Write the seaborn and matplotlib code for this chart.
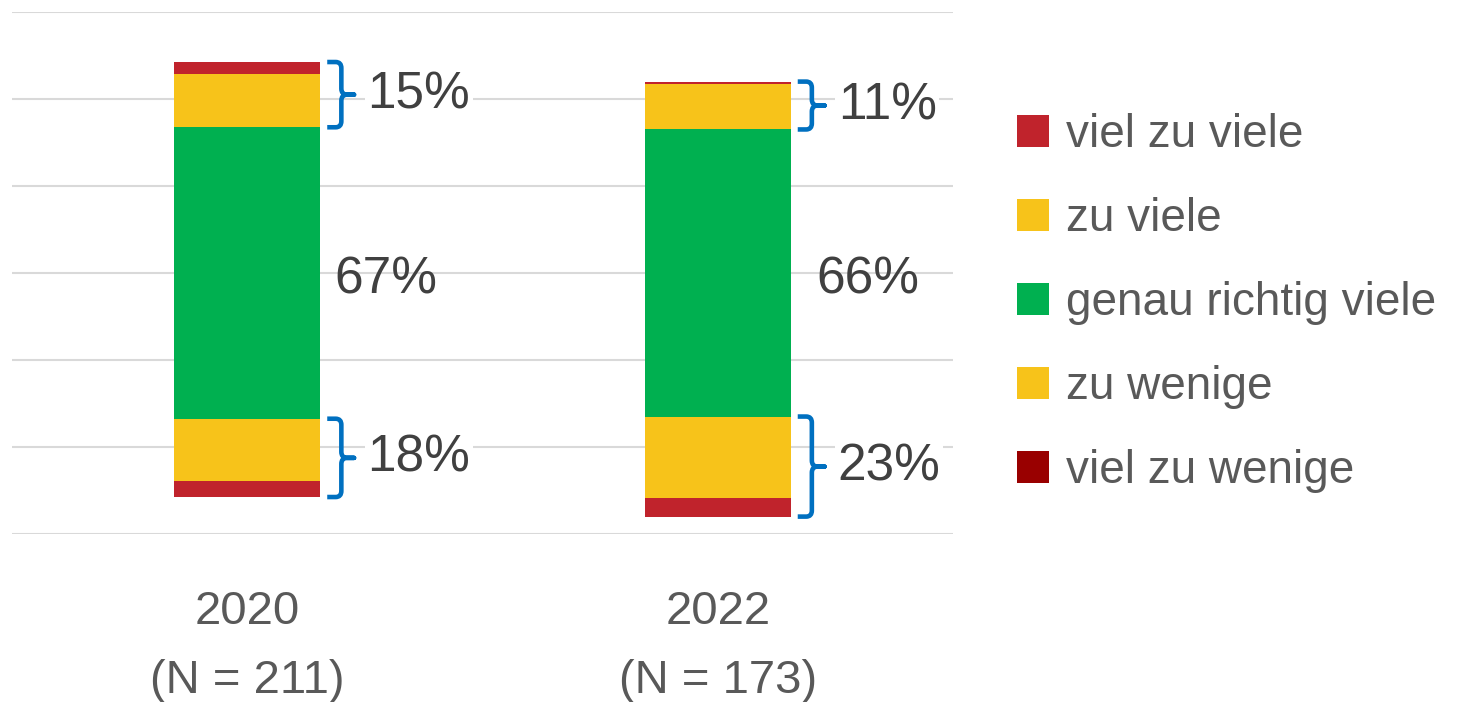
import numpy as np
import pandas as pd
import seaborn as sns
import matplotlib.pyplot as plt
from matplotlib.path import Path
from matplotlib.patches import PathPatch, Patch

# -------------------------
# Data (percent)
# -------------------------
years = ["2020\n(N = 211)", "2022\n(N = 173)"]
viel_zu_wenige = [3.6, 4.2]
zu_wenige = [14.4, 18.8]
genau_richtig = [67, 66]
zu_viele = [12.2, 10.4]
viel_zu_viele = [2.8, 0.6]

labels = ["viel zu viele", "zu viele", "genau richtig viele", "zu wenige", "viel zu wenige"]
bar_red = "#C0232C"
yellow = "#F7C31A"
green = "#00B050"
dark_red = "#990000"
blue = "#0070C0"

sns.set_style("white")
plt.rcParams["font.family"] = ["Liberation Sans", "DejaVu Sans"]

fig = plt.figure(figsize=(14.81, 7.02), dpi=100)
ax = fig.add_axes([12 / 1481, 1 - 534 / 702, (953 - 12) / 1481, (534 - 12) / 702])

# diverging stack: green centred on zero
low = -(np.array(genau_richtig) / 2 + np.array(zu_wenige) + np.array(viel_zu_wenige))
segments = [
    (viel_zu_wenige, bar_red),
    (zu_wenige, yellow),
    (genau_richtig, green),
    (zu_viele, yellow),
    (viel_zu_viele, bar_red),
]
bottom = low.copy()
width = 0.31
for vals, col in segments:
    sns.barplot(x=years, y=vals, bottom=bottom, color=col, width=width,
                linewidth=0, saturation=1, ax=ax, zorder=3)
    bottom = bottom + np.array(vals)

ax.set_xlim(-0.5, 1.5)
ax.set_ylim(-60, 60)
ax.set_yticks(np.arange(-60, 61, 20))
ax.set_yticklabels([])
ax.grid(axis="y", color="#D9D9D9", linewidth=1.5)
ax.grid(axis="x", visible=False)
ax.tick_params(axis="both", length=0)
ax.tick_params(axis="x", pad=40, labelsize=34, labelcolor="#595959")
for t in ax.get_xticklabels():
    t.set_linespacing(1.75)
sns.despine(ax=ax, left=True, bottom=True)


def brace(ax, xr, y_top, y_bot):
    x0, xv, xt = xr + 0.015, xr + 0.045, xr + 0.072
    r, ry = 0.012, 1.4
    ym = (y_top + y_bot) / 2
    verts = [
        (x0, y_top), (xv - r, y_top), (xv, y_top), (xv, y_top - ry),
        (xv, ym + ry), (xv, ym), (xv + r, ym), (xt, ym),
        (xv + r, ym), (xv, ym), (xv, ym - ry),
        (xv, y_bot + ry), (xv, y_bot), (xv - r, y_bot), (x0, y_bot),
    ]
    codes = [Path.MOVETO, Path.LINETO, Path.CURVE3, Path.CURVE3,
             Path.LINETO, Path.CURVE3, Path.CURVE3, Path.LINETO,
             Path.LINETO, Path.CURVE3, Path.CURVE3,
             Path.LINETO, Path.CURVE3, Path.CURVE3, Path.LINETO]
    ax.add_patch(PathPatch(Path(verts, codes), facecolor="none", edgecolor=blue,
                           linewidth=3.3, capstyle="butt", joinstyle="round",
                           zorder=4, clip_on=False))
    return xt, ym


txt = dict(fontsize=37, color="#404040", va="center", ha="left", zorder=5)
box = dict(facecolor="white", edgecolor="none", pad=2)
for i in range(len(years)):
    xr = i + width / 2
    g = genau_richtig[i] / 2
    top = zu_viele[i] + viel_zu_viele[i]
    bot = zu_wenige[i] + viel_zu_wenige[i]
    xt, ym = brace(ax, xr, g + top, g)
    ax.text(xt + 0.028, ym, f"{round(top)}%", bbox=box, **txt)
    xt, ym = brace(ax, xr, -g, -g - bot)
    ax.text(xt + 0.028, ym, f"{round(bot)}%", bbox=box, **txt)
    ax.text(xr + 0.03 + 0.025 * i, -1.5, f"{genau_richtig[i]}%", **txt)

handles = [Patch(facecolor=c, edgecolor="none")
           for c in [bar_red, yellow, green, yellow, dark_red]]
fig.legend(handles, labels, loc="center left", bbox_to_anchor=(1017 / 1481, 1 - 303 / 702),
           frameon=False, fontsize=33, labelcolor="#595959", handlelength=0.7,
           handleheight=0.7, handletextpad=0.36, labelspacing=0.87,
           borderpad=0, borderaxespad=0)

fig.savefig("out.png", dpi=100, facecolor="white")
